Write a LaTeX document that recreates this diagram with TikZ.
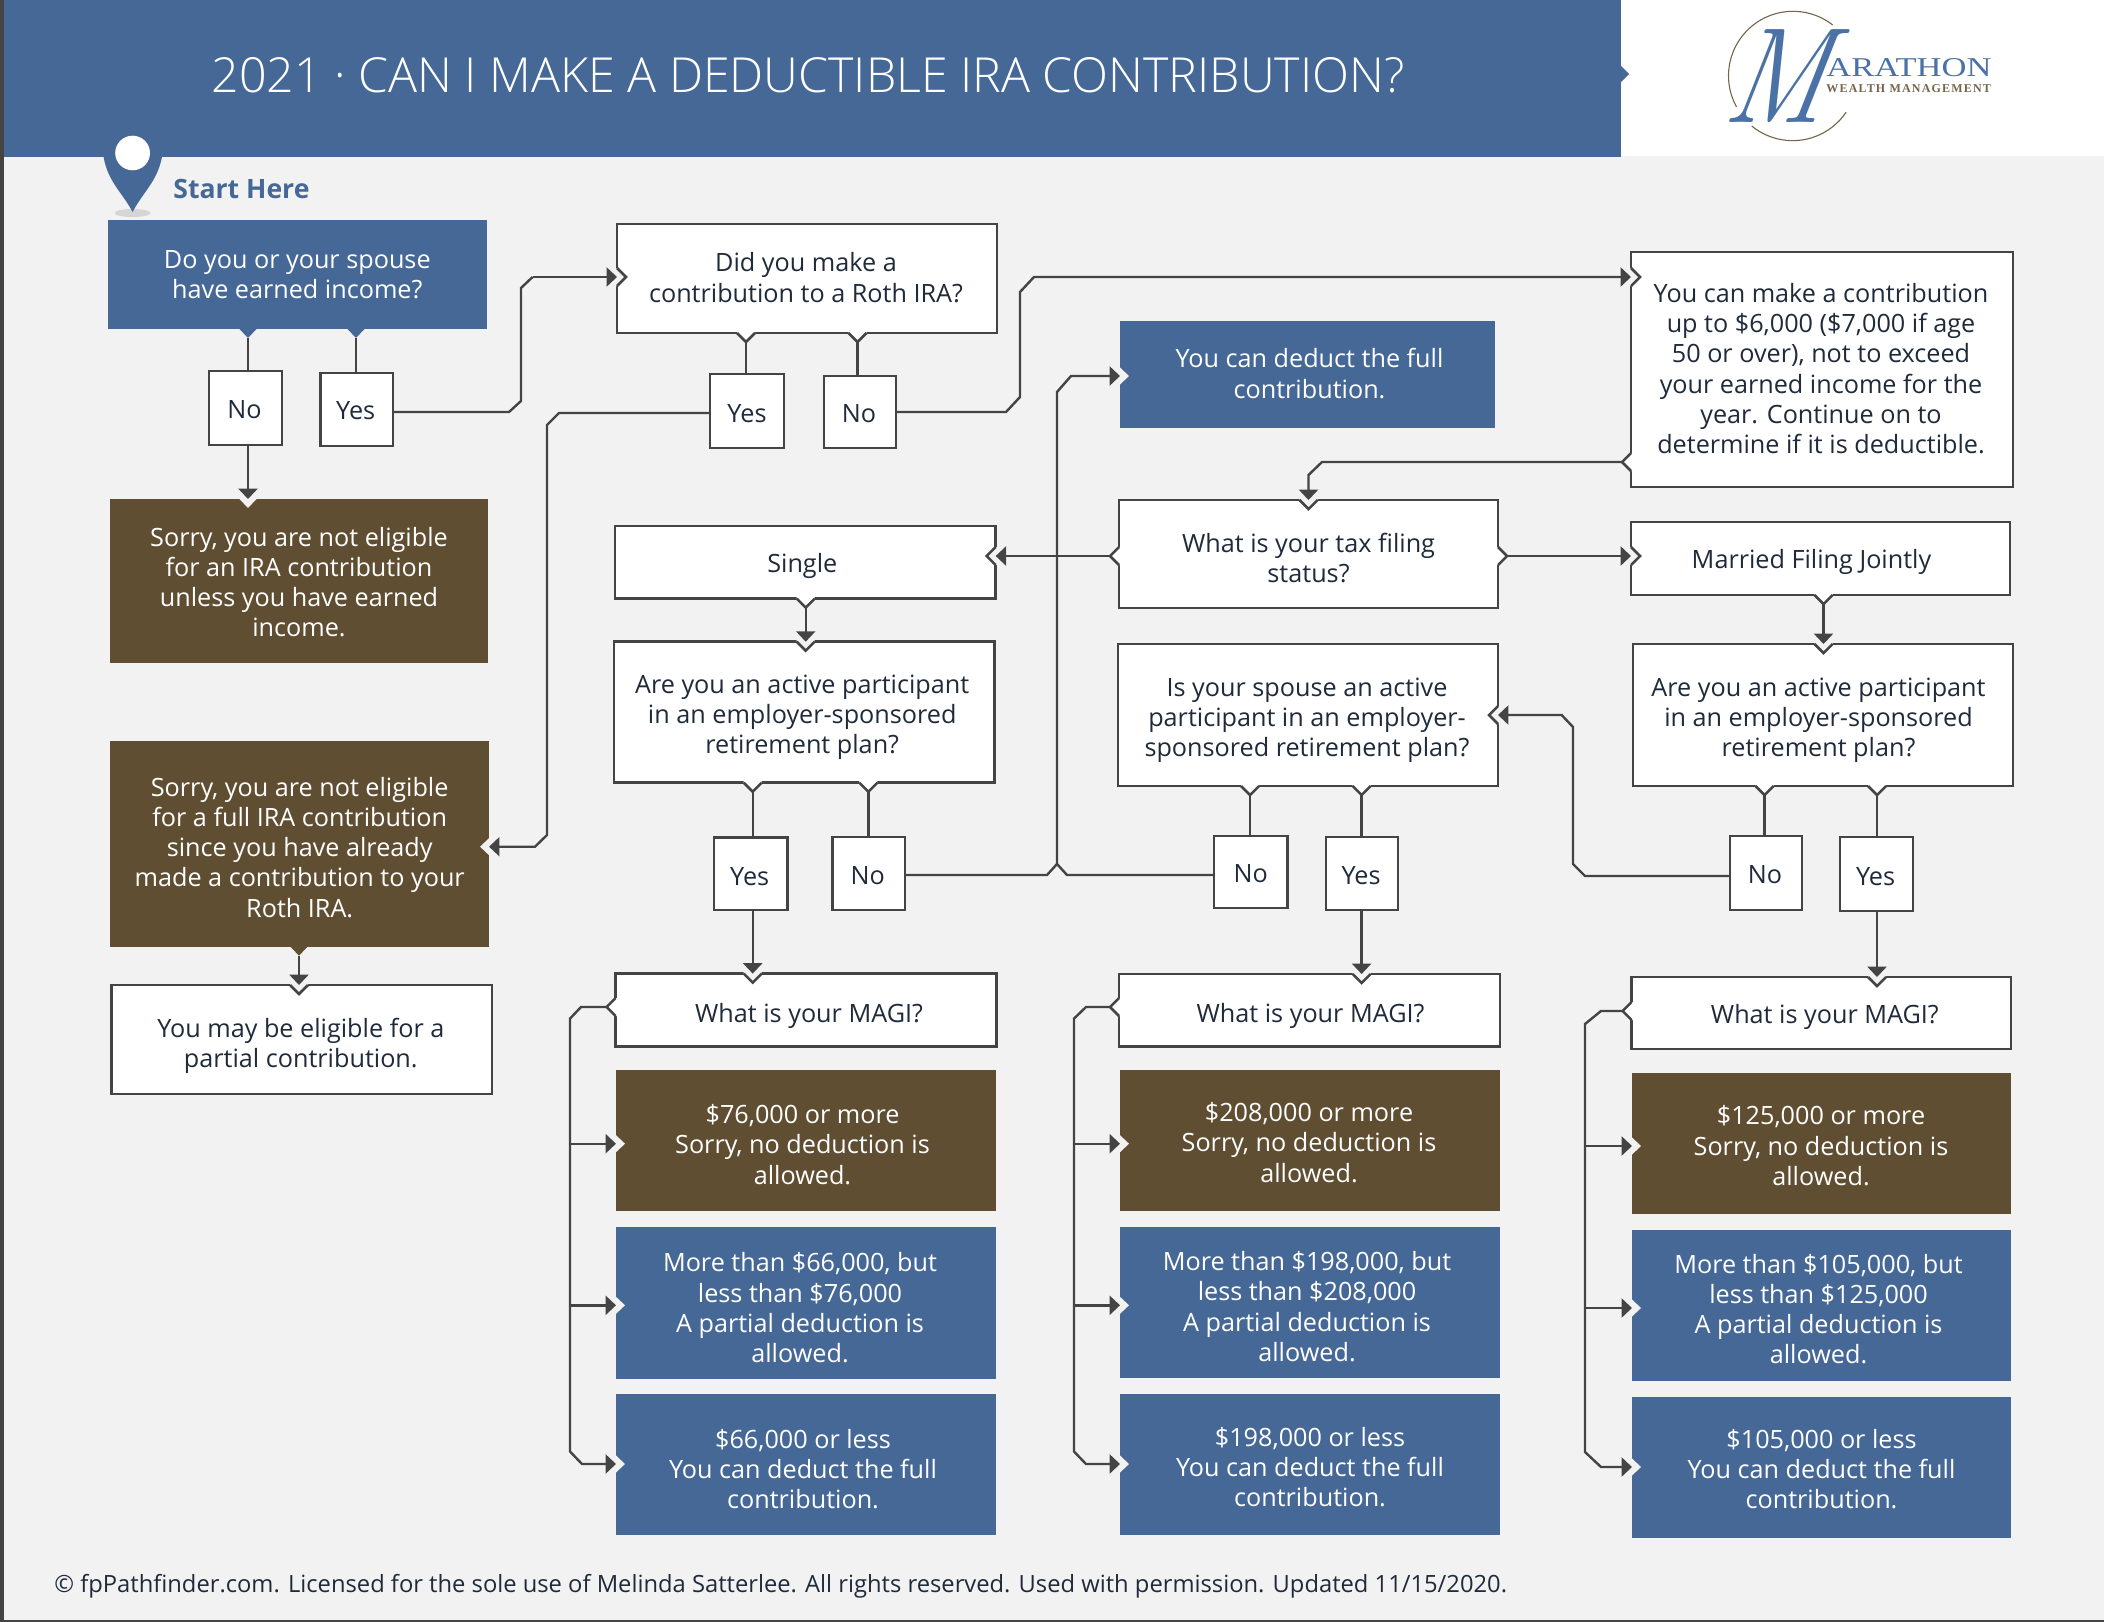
\documentclass[tikz,border=0pt]{standalone}
\usepackage{fontspec}
\usepackage{graphicx}
\setmainfont{Open Sans}
\newfontfamily\titlefont{Open Sans Light}
\newfontfamily\logofont{Liberation Serif}
\newfontfamily\logospaced[LetterSpace=10]{Liberation Serif}
\newfontfamily\logoscript[ItalicFeatures={FakeSlant=0.22}]{Latin Modern Roman}
\usetikzlibrary{arrows.meta,positioning}
\definecolor{bluec}{HTML}{456897}
\definecolor{brownc}{HTML}{604E32}
\definecolor{bgc}{HTML}{F2F2F2}
\definecolor{linec}{HTML}{444444}
\definecolor{inkc}{HTML}{1F2A3A}
\definecolor{logoblue}{HTML}{4A72A6}
\definecolor{logobrown}{HTML}{75654A}
\newdimen\pxunit
\pxunit=0.5pt
\newcommand{\lines}[3]{\raisebox{\dimexpr-#2\pxunit-5.2pt\relax}[0pt][0pt]{\makebox[0pt]{\hspace*{#1pt}\begin{tabular}[c]{@{}c@{}}#3\end{tabular}}}}

\begin{document}
\begin{tikzpicture}[
    x=0.5pt, y=-0.5pt,
    size/.style 2 args={minimum width=#1*0.5pt, minimum height=#2*0.5pt},
    basebox/.style={inner sep=0pt, outer sep=0pt, font=\fontsize{12.6}{15.1}\selectfont},
    whitebox/.style={basebox, draw=linec, line width=1.25pt, fill=white, text=inkc},
    bluebox/.style={basebox, fill=bluec, text=white},
    brownbox/.style={basebox, fill=brownc, text=white},
    link/.style={draw=linec, line width=1.2pt},
    flow/.style={link, -{Triangle[length=5.2pt, width=9.5pt]}},
    tabline/.pic={
        \fill[#1] (-2.2,-9) -- (0,-9) -- (9,0) -- (0,9) -- (-2.2,9) -- cycle;
        \draw[draw=linec, line width=1.25pt] (0,-9) -- (9,0) -- (0,9);
    },
    tabflat/.pic={
        \fill[#1] (-1,-8.5) -- (0,-8.5) -- (9,0) -- (0,8.5) -- (-1,8.5) -- cycle;
    }
]

\useasboundingbox (0,0) rectangle (2104,1622);
\fill[bgc] (0,0) rectangle (2104,1622);
\fill[white] (1621,0) rectangle (2104,156);
\fill[bluec] (0,0) rectangle (1621,157);
\fill[bluec] (1620,65) -- (1629,74) -- (1620,83) -- cycle;
\fill[linec] (0,0) rectangle (3.5,1622);
\fill[linec] (0,1619.5) rectangle (2104,1622);

\node[text=white, font=\titlefont\fontsize{24.15}{28}\selectfont] (title) at (808,75) {2021 · CAN I MAKE A DEDUCTIBLE IRA CONTRIBUTION?};

\draw[logobrown, line width=0.55pt] (1832.7,25) arc[start angle=52, end angle=208.7, radius=32.25pt];
\draw[logobrown, line width=0.55pt] (1751.7,126) arc[start angle=230.6, end angle=326, radius=32.25pt];
\node[inner sep=0pt, text=logoblue, font=\logoscript\itshape\fontsize{68}{68}\selectfont] (logoM) at (1772,76) {\scalebox{0.84}[1]{M}};
\node[anchor=base west, inner sep=0pt, text=logoblue, font=\logofont\fontsize{13.6}{14}\selectfont] (logoname) at (1826,76) {\scalebox{1.27}[1]{ARATHON}};
\node[anchor=base west, inner sep=0pt, text=logobrown, font=\logospaced\bfseries\fontsize{6}{7}\selectfont] (logosub) at (1826,92) {WEALTH MANAGEMENT};

\fill[bgc!75!gray] (132.6,213) ellipse [x radius=18, y radius=4];
\fill[bluec] (103.6,157) .. controls (108,182) and (122,192) .. (132.6,212) .. controls (143,192) and (157,182) .. (162,157) -- cycle;
\fill[white] (132.6,153) ellipse [x radius=17.4, y radius=17.3];
\node[anchor=west, inner sep=0pt, text=bluec, font=\bfseries\fontsize{13.3}{15}\selectfont] (start) at (173,189) {Start Here};

\node[bluebox, size={379}{109}] (income) at (297.3,274.5) {\lines{0}{-1.5}{Do you or your spouse\\have earned income?}};
\node[whitebox, size={73}{74}] (noA) at (245.5,408) {\lines{-1}{0}{No}};
\node[whitebox, size={72.5}{73}] (yesA) at (356.7,409.5) {\lines{-1}{0}{Yes}};
\node[whitebox, size={380}{109}] (roth) at (807,278.5) {\lines{-1}{-2}{Did you make a\\contribution to a Roth IRA?}};
\node[whitebox, size={74}{74}] (yesB) at (747,411) {\lines{0}{1}{Yes}};
\node[whitebox, size={72}{72}] (noB) at (860,412) {\lines{-1}{0}{No}};
\node[bluebox, size={375}{107}] (fulltop) at (1307.5,374.5) {\lines{2}{-2}{You can deduct the full\\contribution.}};
\node[whitebox, size={382}{235}] (contrib) at (1822,369.5) {\lines{-1}{-2}{You can make a contribution\\up to \$6,000 (\$7,000 if age\\50 or over), not to exceed\\your earned income for the\\year. Continue on to\\determine if it is deductible.}};
\node[brownbox, size={378}{164}] (ineligible) at (299,581) {\lines{0}{0}{Sorry, you are not eligible\\for an IRA contribution\\unless you have earned\\income.}};
\node[brownbox, size={378.7}{206}] (fullno) at (299.7,843.7) {\lines{0}{2.5}{Sorry, you are not eligible\\for a full IRA contribution\\since you have already\\made a contribution to your\\Roth IRA.}};
\node[whitebox, size={380.3}{109}] (partial) at (301.8,1039.5) {\lines{-1}{2.5}{You may be eligible for a\\partial contribution.}};

\node[whitebox, size={379}{108}] (filing) at (1308.5,554) {\lines{0}{3}{What is your tax filing\\status?}};
\node[whitebox, size={380.7}{72.7}] (single) at (805.3,562.3) {\lines{-3}{0}{Single}};
\node[whitebox, size={379}{73}] (married) at (1820.5,558.5) {\lines{-9}{0}{Married Filing Jointly}};
\node[whitebox, size={380.3}{141}] (activeA) at (804.2,712.2) {\lines{-2}{1}{Are you an active participant\\in an employer-sponsored\\retirement plan?}};
\node[whitebox, size={380}{142}] (spouse) at (1308,715) {\lines{-1}{1}{Is your spouse an active\\participant in an employer-\\sponsored retirement plan?}};
\node[whitebox, size={380}{142}] (activeB) at (1823,715) {\lines{-4.5}{1}{Are you an active participant\\in an employer-sponsored\\retirement plan?}};
\node[whitebox, size={73.3}{72.7}] (yesC) at (750.7,873.7) {\lines{-1}{1}{Yes}};
\node[whitebox, size={72.7}{73}] (noC) at (868.7,873.5) {\lines{-1}{1}{No}};
\node[whitebox, size={73.5}{72}] (noD) at (1250.7,872) {\lines{0}{0}{No}};
\node[whitebox, size={72}{73}] (yesD) at (1362,873.5) {\lines{-1}{1}{Yes}};
\node[whitebox, size={72}{74}] (noE) at (1766,873) {\lines{-1}{0}{No}};
\node[whitebox, size={73}{74}] (yesE) at (1876.5,874) {\lines{-1}{1}{Yes}};

\node[whitebox, size={380.8}{72.8}] (magiA) at (806,1010) {\lines{3}{2}{What is your MAGI?}};
\node[brownbox, size={380}{140.2}] (highA) at (806,1140.5) {\lines{-3.5}{3}{\$76,000 or more\\Sorry, no deduction is\\allowed.}};
\node[bluebox, size={380}{151.6}] (midA) at (806,1302.8) {\lines{-6}{4}{More than \$66,000, but\\less than \$76,000\\A partial deduction is\\allowed.}};
\node[bluebox, size={380}{140.6}] (lowA) at (806,1464.3) {\lines{-3}{4}{\$66,000 or less\\You can deduct the full\\contribution.}};
\node[whitebox, size={381}{72.6}] (magiB) at (1309.5,1010.3) {\lines{1}{1.5}{What is your MAGI?}};
\node[brownbox, size={380}{141}] (highB) at (1310,1140.5) {\lines{-1}{1}{\$208,000 or more\\Sorry, no deduction is\\allowed.}};
\node[bluebox, size={380}{151}] (midB) at (1310,1302.5) {\lines{-3}{3}{More than \$198,000, but\\less than \$208,000\\A partial deduction is\\allowed.}};
\node[bluebox, size={380}{141}] (lowB) at (1310,1464.5) {\lines{0}{1.5}{\$198,000 or less\\You can deduct the full\\contribution.}};
\node[whitebox, size={379.4}{72}] (magiC) at (1821.3,1013) {\lines{3.5}{0}{What is your MAGI?}};
\node[brownbox, size={379}{140.5}] (highC) at (1821.5,1143.7) {\lines{-0.5}{1}{\$125,000 or more\\Sorry, no deduction is\\allowed.}};
\node[bluebox, size={379}{151}] (midC) at (1821.5,1305.5) {\lines{-3}{2.5}{More than \$105,000, but\\less than \$125,000\\A partial deduction is\\allowed.}};
\node[bluebox, size={379}{141}] (lowC) at (1821.5,1467.5) {\lines{0}{0.5}{\$105,000 or less\\You can deduct the full\\contribution.}};

\node[anchor=west, inner sep=0pt, text=inkc, font=\fontsize{11.87}{15}\selectfont] (foot) at (54,1586) {© fpPathfinder.com. Licensed for the sole use of Melinda Satterlee. All rights reserved. Used with permission. Updated 11/15/2020.};

\pic[rotate=-90] at (248,0 |- income.south) {tabflat=bluec};
\pic[rotate=-90] at (356,0 |- income.south) {tabflat=bluec};
\pic[rotate=-90] at (248,0 |- ineligible.north) {tabflat=bgc};
\pic[rotate=-90] at (299,0 |- fullno.south) {tabflat=brownc};
\pic[rotate=180] at (fullno.east |- 0,846.7) {tabflat=bgc};
\pic[rotate=-90] at (299,0 |- partial.north) {tabline=bgc};
\pic at (roth.west |- 0,277) {tabline=bgc};
\pic[rotate=-90] at (746,0 |- roth.south) {tabline=white};
\pic[rotate=-90] at (857.5,0 |- roth.south) {tabline=white};
\pic at (contrib.west |- 0,277) {tabline=bgc};
\pic[rotate=180] at (contrib.west |- 0,462) {tabline=white};
\pic at (fulltop.west |- 0,376) {tabflat=bgc};
\pic[rotate=-90] at (1308.5,0 |- filing.north) {tabline=bgc};
\pic[rotate=180] at (filing.west |- 0,556) {tabline=white};
\pic at (filing.east |- 0,556) {tabline=white};
\pic[rotate=180] at (single.east |- 0,556) {tabline=bgc};
\pic at (married.west |- 0,556) {tabline=bgc};
\pic[rotate=-90] at (805.7,0 |- single.south) {tabline=white};
\pic[rotate=-90] at (805.7,0 |- activeA.north) {tabline=bgc};
\pic[rotate=-90] at (1823.5,0 |- married.south) {tabline=white};
\pic[rotate=-90] at (1823.5,0 |- activeB.north) {tabline=bgc};
\pic[rotate=-90] at (752.7,0 |- activeA.south) {tabline=white};
\pic[rotate=-90] at (868.3,0 |- activeA.south) {tabline=white};
\pic[rotate=-90] at (1250,0 |- spouse.south) {tabline=white};
\pic[rotate=-90] at (1361.6,0 |- spouse.south) {tabline=white};
\pic[rotate=180] at (spouse.east |- 0,715) {tabline=bgc};
\pic[rotate=-90] at (1764.5,0 |- activeB.south) {tabline=white};
\pic[rotate=-90] at (1877,0 |- activeB.south) {tabline=white};
\pic[rotate=-90] at (752.7,0 |- magiA.north) {tabline=bgc};
\pic[rotate=-90] at (1361.6,0 |- magiB.north) {tabline=bgc};
\pic[rotate=-90] at (1877,0 |- magiC.north) {tabline=bgc};
\pic[rotate=180] at (magiA.west |- 0,1007) {tabline=white};
\pic[rotate=180] at (magiB.west |- 0,1007) {tabline=white};
\pic[rotate=180] at (magiC.west |- 0,1011) {tabline=white};
\pic at (highA.west |- 0,1143.7) {tabflat=bgc};
\pic at (midA.west |- 0,1305.3) {tabflat=bgc};
\pic at (lowA.west |- 0,1464) {tabflat=bgc};
\pic at (highB.west |- 0,1143.7) {tabflat=bgc};
\pic at (midB.west |- 0,1305.3) {tabflat=bgc};
\pic at (lowB.west |- 0,1464) {tabflat=bgc};
\pic at (highC.west |- 0,1146) {tabflat=bgc};
\pic at (midC.west |- 0,1308) {tabflat=bgc};
\pic at (lowC.west |- 0,1467) {tabflat=bgc};

\draw[link] (248,338) -- (248,0 |- noA.north);
\draw[link] (356,338) -- (356,0 |- yesA.north);
\draw[flow] (248,0 |- noA.south) -- (248,0 |- ineligible.north);
\draw[link] (yesA.east |- 0,412) -- (509,412) -- (521,401) -- (521,288) -- (532.6,277);
\draw[flow] (532.6,277) -- (roth.west |- 0,277);
\draw[link] (746,342) -- (746,0 |- yesB.north);
\draw[link] (857.5,342) -- (857.5,0 |- noB.north);
\draw[flow] (yesB.west |- 0,413) -- (559,413) -- (547,425) -- (547,835) -- (535,846.7) -- (fullno.east |- 0,846.7);
\draw[flow] (noB.east) -- (1006,412) -- (1020,397) -- (1020,292) -- (1034,277) -- (contrib.west |- 0,277);
\draw[flow] (1622,462) -- (1322,462) -- (1308.5,475) -- (1308.5,0 |- filing.north);
\draw[flow] (1109,556) -- (single.east |- 0,556);
\draw[flow] (1508,556) -- (married.west |- 0,556);
\draw[flow] (299,956) -- (299,0 |- partial.north);
\draw[flow] (805.7,607) -- (805.7,0 |- activeA.north);
\draw[flow] (1823.5,604) -- (1823.5,0 |- activeB.north);
\draw[link] (752.7,791.7) -- (752.7,0 |- yesC.north);
\draw[link] (868.3,791.7) -- (868.3,0 |- noC.north);
\draw[link] (1250,795) -- (1250,0 |- noD.north);
\draw[link] (1361.6,795) -- (1361.6,0 |- yesD.north);
\draw[link] (1764.5,795) -- (1764.5,0 |- noE.north);
\draw[link] (1877,795) -- (1877,0 |- yesE.north);
\draw[flow] (752.7,0 |- yesC.south) -- (752.7,0 |- magiA.north);
\draw[flow] (1361.6,0 |- yesD.south) -- (1361.6,0 |- magiB.north);
\draw[flow] (1877,0 |- yesE.south) -- (1877,0 |- magiC.north);
\draw[link] (noC.east |- 0,875) -- (1047,875) -- (1057,864);
\draw[flow] (noD.west |- 0,875) -- (1067,875) -- (1057,864) -- (1057,392) -- (1071,376) -- (fulltop.west |- 0,376);
\draw[flow] (noE.west |- 0,876) -- (1585,876) -- (1573,864) -- (1573,727) -- (1561.6,715) -- (spouse.east |- 0,715);

\draw[flow] (607,1007) -- (581,1007) -- (570,1018.6) -- (570,1451.5) -- (582,1464) -- (lowA.west |- 0,1464);
\draw[flow] (570,1143.7) -- (highA.west |- 0,1143.7);
\draw[flow] (570,1305.3) -- (midA.west |- 0,1305.3);
\draw[flow] (1110,1007) -- (1086,1007) -- (1074,1018.6) -- (1074,1451.5) -- (1086,1464) -- (lowB.west |- 0,1464);
\draw[flow] (1074,1143.7) -- (highB.west |- 0,1143.7);
\draw[flow] (1074,1305.3) -- (midB.west |- 0,1305.3);
\draw[flow] (1622,1011) -- (1601,1011) -- (1585,1024) -- (1585,1452) -- (1601,1467) -- (lowC.west |- 0,1467);
\draw[flow] (1585,1146) -- (highC.west |- 0,1146);
\draw[flow] (1585,1308) -- (midC.west |- 0,1308);
\end{tikzpicture}
\end{document}
